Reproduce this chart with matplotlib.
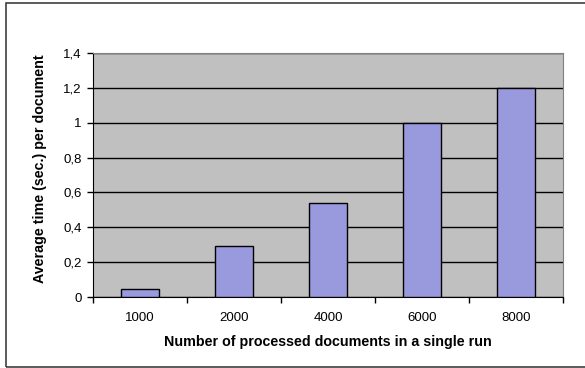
import numpy as np
import matplotlib.pyplot as plt
import matplotlib.patches as mpatches

plt.rcParams['font.family'] = ['Liberation Sans', 'DejaVu Sans']

# Data
batch_sizes = ['1000', '2000', '4000', '6000', '8000']
avg_time = [0.045, 0.29, 0.54, 1.0, 1.2]
y_ticks = [0, 0.2, 0.4, 0.6, 0.8, 1.0, 1.2, 1.4]
y_tick_labels = ['0', '0,2', '0,4', '0,6', '0,8', '1', '1,2', '1,4']

fig = plt.figure(figsize=(5.85, 3.68), dpi=100)
ax = fig.add_axes([93/585, 71/368, 470/585, 244/368])

# chart frame around the whole figure (right edge runs off the canvas)
frame = mpatches.Rectangle((6/585, 1/368), 1.0, 364/368, transform=fig.transFigure,
                           fill=False, edgecolor='#404040', linewidth=1.2, zorder=0)
fig.patches.append(frame)

x = np.arange(len(batch_sizes))
ax.set_facecolor('#c0c0c0')
ax.bar(x, avg_time, width=0.4, color='#9999dd', edgecolor='black', linewidth=1, zorder=3)

ax.set_xlim(-0.5, len(batch_sizes) - 0.5)
ax.set_ylim(0, 1.4)
ax.set_yticks(y_ticks)
ax.set_yticklabels(y_tick_labels)
ax.yaxis.grid(True, color='black', linewidth=1)
ax.set_axisbelow(True)

ax.set_xticks(x)
ax.set_xticklabels(batch_sizes)
ax.set_xticks(np.arange(len(batch_sizes) + 1) - 0.5, minor=True)
ax.tick_params(axis='x', which='major', length=0, pad=11, labelsize=9.5)
ax.tick_params(axis='x', which='minor', length=4, width=1, direction='out')
ax.tick_params(axis='y', length=4, width=1, labelsize=9.5, pad=4)

for side in ['top', 'right']:
    ax.spines[side].set_color('#808080')
for side in ['left', 'bottom']:
    ax.spines[side].set_color('black')

ax.set_xlabel('Number of processed documents in a single run', fontsize=10.3,
              fontweight='bold', labelpad=8)
ax.set_ylabel('Average time (sec.) per document', fontsize=10.3,
              fontweight='bold', va='center')
ax.yaxis.set_label_coords(-0.113, 0.527)

fig.savefig('out.png', dpi=100)
